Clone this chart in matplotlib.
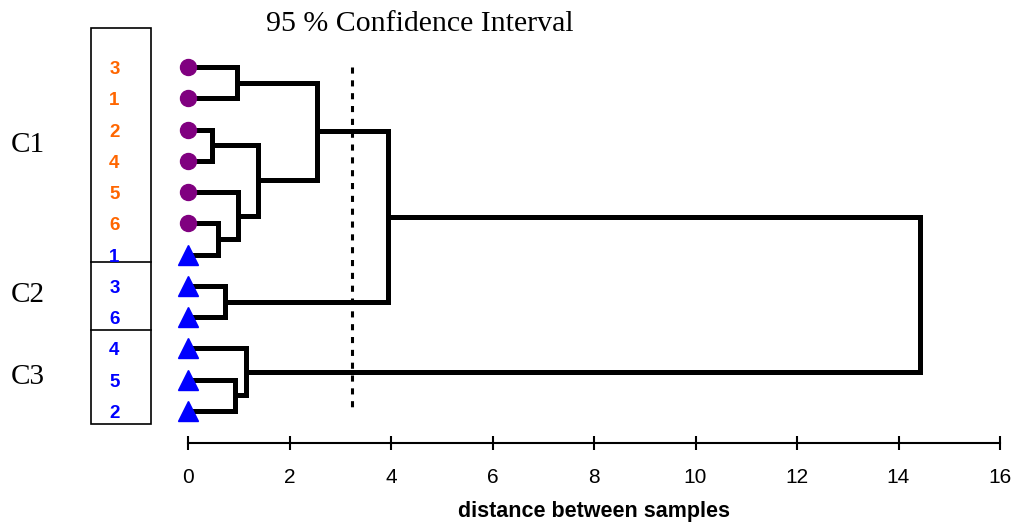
import matplotlib
matplotlib.use('Agg')
import matplotlib.pyplot as plt
from matplotlib.patches import Rectangle

#==================================================================
# Sample labels in leaf order (top to bottom) and their type
leaf_labels = ['3', '1', '2', '4', '5', '6', '1', '3', '6', '4', '5', '2']
leaf_type = ['a'] * 6 + ['b'] * 6

# Merges: (left node, right node, distance); leaves are 0..11, new nodes 12..
merges = [
    (0, 1, 0.97),
    (2, 3, 0.48),
    (5, 6, 0.60),
    (4, 14, 0.98),
    (13, 15, 1.38),
    (12, 16, 2.54),
    (7, 8, 0.73),
    (17, 18, 3.94),
    (10, 11, 0.93),
    (9, 20, 1.14),
    (19, 21, 14.42),
]
cutoff = 3.23

cluster_names = ['C1', 'C2', 'C3']
cluster_rows = [2.5, 7.3, 9.9]        # label row positions
cluster_breaks = [6.24, 8.41]          # dividers inside the label box
xticks = [0, 2, 4, 6, 8, 10, 12, 14, 16]
#==================================================================

fig = plt.figure(figsize=(10.17, 5.25), dpi=100)
ax = fig.add_axes([0, 0, 1, 1])
ax.set_xlim(-188 / 50.75, (1017 - 188) / 50.75)
ax.set_ylim((525 - 67) / 31.27, -67 / 31.27)

# node positions: (height, row)
pos = {i: (0.0, float(i)) for i in range(len(leaf_labels))}
lw = 3.6
for k, (a, b, h) in enumerate(merges):
    ha, ya = pos[a]
    hb, yb = pos[b]
    ax.plot([ha, h, h, hb], [ya, ya, yb, yb], color='black', lw=lw,
            solid_joinstyle='miter', solid_capstyle='butt', zorder=2)
    pos[len(leaf_labels) + k] = (h, (ya + yb) / 2)

# leaf markers
for i, t in enumerate(leaf_type):
    if t == 'a':
        ax.plot(0, i, 'o', color='#800080', ms=11.5, zorder=3)
    else:
        ax.plot(0, i, '^', color='#0000FF', ms=14, zorder=3)

# dotted cut line
ax.plot([cutoff, cutoff], [0, len(leaf_labels) - 1], color='black', lw=2.2,
        ls=(0, (2, 2.2)), zorder=1)

# label box
x0, x1 = -1.911, -0.729
ytop, ybot = (28 - 67) / 31.27, (424 - 67) / 31.27
ax.add_patch(Rectangle((x0, ytop), x1 - x0, ybot - ytop, fill=False,
                       edgecolor='black', lw=1.2))
for yb in cluster_breaks:
    ax.plot([x0, x1], [yb, yb], color='black', lw=1.2)
for i, (lab, t) in enumerate(zip(leaf_labels, leaf_type)):
    ax.text((x0 + x1) / 2 - 0.13, i + 0.08, lab, ha='center', va='center',
            fontsize=13.5, fontweight='bold', family='Liberation Sans',
            color='#FF6600' if t == 'a' else '#0000FF')
for name, yc in zip(cluster_names, cluster_rows):
    ax.text(-3.15, yc, name, ha='center', va='center', fontsize=21,
            family='Liberation Serif')

# distance axis
for s in ['top', 'left', 'right']:
    ax.spines[s].set_visible(False)
ax.spines['bottom'].set_position(('data', (443 - 67) / 31.27))
ax.spines['bottom'].set_bounds(0, 16)
ax.spines['bottom'].set_linewidth(1.5)
ax.set_yticks([])
ax.set_xticks(xticks)
ax.set_xticklabels([str(v) for v in xticks], family='Liberation Sans', fontsize=15)
ax.tick_params(axis='x', direction='inout', length=10, width=1.5, pad=13)
ax.text(8, (512 - 67) / 31.27, 'distance between samples', ha='center', va='center',
        fontsize=15.5, fontweight='bold', family='Liberation Sans')

fig.text(420 / 1017, 1 - 24 / 525, '95 % Confidence Interval', ha='center', va='center',
         fontsize=21.5, family='Liberation Serif')

fig.savefig('out.png', dpi=100)
